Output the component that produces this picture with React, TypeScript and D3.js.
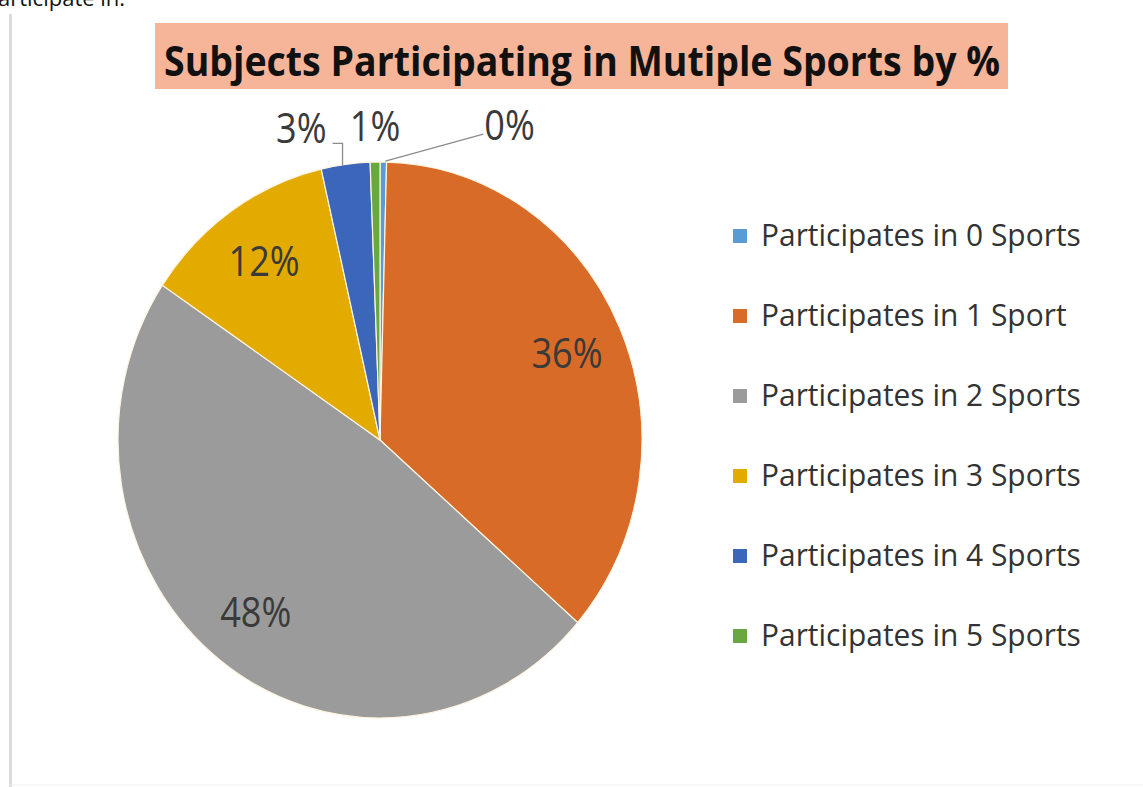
import React, { useEffect, useRef } from "react";
import * as d3 from "d3";

const title = "Subjects Participating in Mutiple Sports by %";
const categories = [
  "Participates in 0 Sports",
  "Participates in 1 Sport",
  "Participates in 2 Sports",
  "Participates in 3 Sports",
  "Participates in 4 Sports",
  "Participates in 5 Sports",
];
const values = [0.4, 36.0, 48.0, 12.0, 3.0, 0.6];
const labels = ["0%", "36%", "48%", "12%", "3%", "1%"];
const colors = ["#5B9BD5", "#D86B27", "#9B9B9B", "#E3AA00", "#3C66BA", "#67A843"];

const W = 1143;
const H = 787;
const CX = 380;
const CY = 440;
const RX = 262;
const RY = 278;
const FONT = "'Open Sans', 'Noto Sans', sans-serif";
const SQUEEZE = 0.86;

export default function App() {
  const ref = useRef<SVGSVGElement | null>(null);

  useEffect(() => {
    const svg = d3.select(ref.current);
    svg.selectAll("*").remove();

    svg.append("rect").attr("width", W).attr("height", H).attr("fill", "#ffffff");

    // cut-off text at very top (as in the reference)
    svg
      .append("text")
      .attr("x", -2)
      .attr("y", 6)
      .attr("font-family", FONT)
      .attr("font-size", 22)
      .attr("fill", "#111")
      .text("articipate in:");

    // frame lines
    svg.append("line").attr("x1", 10.5).attr("x2", 10.5).attr("y1", 14).attr("y2", H)
      .attr("stroke", "#DCDCDC").attr("stroke-width", 3);
    svg.append("line").attr("x1", 10).attr("x2", W).attr("y1", 785).attr("y2", 785)
      .attr("stroke", "#EEEEEE").attr("stroke-width", 1);

    // title
    svg.append("rect").attr("x", 155).attr("y", 23).attr("width", 853).attr("height", 66)
      .attr("fill", "#F6B598");
    svg
      .append("text")
      .attr("x", 164)
      .attr("y", 76)
      .attr("font-family", FONT)
      .attr("font-weight", 700)
      .attr("font-size", 42)
      .attr("fill", "#111")
      .attr("textLength", 836)
      .attr("lengthAdjust", "spacingAndGlyphs")
      .text(title);

    // pie
    const data = categories.map((c, i) => ({ c, v: values[i], label: labels[i], color: colors[i] }));
    const pie = d3.pie<any>().sort(null).value((d: any) => d.v).startAngle(0).endAngle(2 * Math.PI);
    const arcs = pie(data);
    const arc = d3.arc<any>().innerRadius(0).outerRadius(RX);
    const ys = RY / RX;

    const g = svg.append("g").attr("transform", `translate(${CX},${CY}) scale(1,${ys})`);
    g.selectAll("path")
      .data(arcs)
      .join("path")
      .attr("d", arc as any)
      .attr("fill", (d: any) => d.data.color)
      .attr("stroke", "#FFF4E0")
      .attr("stroke-width", 1.2)
      .attr("vector-effect", "non-scaling-stroke");

    const pt = (a: number, r: number) => [CX + r * Math.sin(a), CY - r * Math.cos(a) * ys];

    const labelG = svg.append("g");
    const addLabel = (x: number, y: number, anchor: string, txt: string) => {
      labelG
        .append("text")
        .attr("transform", `translate(${x},${y}) scale(${SQUEEZE},1)`)
        .attr("text-anchor", anchor)
        .attr("font-family", FONT)
        .attr("font-size", 42)
        .attr("fill", "#3A3A3A")
        .text(txt);
    };

    arcs.forEach((d: any, i: number) => {
      const mid = (d.startAngle + d.endAngle) / 2;
      const frac = d.endAngle - d.startAngle;
      if (frac > 0.3) {
        const [x, y] = pt(mid, RX * 0.78);
        addLabel(x, y + 15, "middle", d.data.label);
      } else {
        const [ox, oy] = pt(mid, RX);
        if (i === 4) {
          // 3% with elbow leader
          svg.append("path")
            .attr("d", d3.line()([[ox - 3, oy + 1], [ox - 3, oy - 21], [ox - 13, oy - 21]]) as string)
            .attr("fill", "none").attr("stroke", "#8C8C8C").attr("stroke-width", 1.3);
          addLabel(ox - 19, oy - 21, "end", d.data.label);
        } else if (i === 5) {
          addLabel(ox, oy - 21, "middle", d.data.label);
        } else {
          svg.append("path")
            .attr("d", d3.line()([[ox + 2, oy - 1], [ox + 100, oy - 28]]) as string)
            .attr("fill", "none").attr("stroke", "#8C8C8C").attr("stroke-width", 1.3);
          addLabel(ox + 101, oy - 22, "start", d.data.label);
        }
      }
    });

    // legend
    const legY = d3.scalePoint<string>().domain(categories).range([246, 646]);
    const lg = svg.append("g");
    categories.forEach((c, i) => {
      const y = legY(c) as number;
      lg.append("rect").attr("x", 733).attr("y", y - 17).attr("width", 14).attr("height", 14)
        .attr("fill", colors[i]);
      lg.append("text")
        .attr("transform", `translate(761,${y}) scale(0.95,1)`)
        .attr("font-family", FONT)
        .attr("font-size", 31.5)
        .attr("fill", "#333")
        .text(c);
    });
  }, []);

  return (
    <svg
      ref={ref}
      width={W}
      height={H}
      style={{ position: "absolute", left: 0, top: 0, display: "block" }}
    />
  );
}
